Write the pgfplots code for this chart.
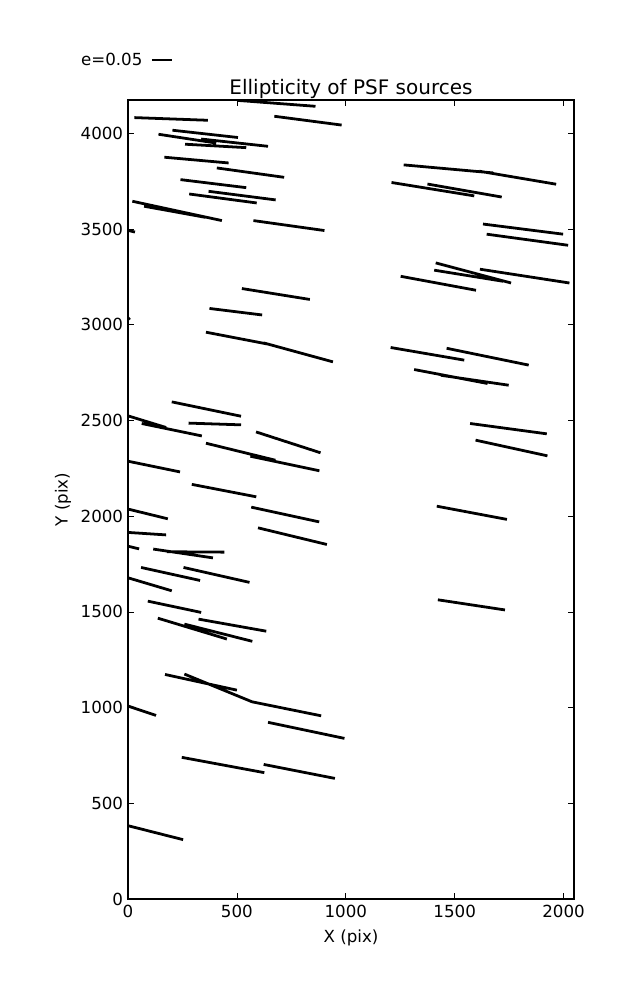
\documentclass[border=0pt]{standalone}
\usepackage{fontspec}
\setmainfont{DejaVu Sans}
\usepackage{pgfplots}
\pgfplotsset{compat=1.18}
\begin{document}
\begin{tikzpicture}
\path (-92.16pt,-72.72pt) rectangle (366.48pt,647.28pt);
\begin{axis}[
  scale only axis,
  width=321.12pt, height=575.28pt,
  xmin=0, xmax=2048, ymin=0, ymax=4174,
  xtick={0,500,1000,1500,2000},
  ytick={0,500,1000,1500,2000,2500,3000,3500,4000},
  minor tick num=0,
  tick align=inside,
  major tick length=4pt,
  every tick/.style={black, line width=0.5pt},
  axis line style={black, line width=0.8pt},
  /pgf/number format/assume math mode=true,
  /pgf/number format/1000 sep={},
  tick label style={font=\fontsize{12}{14}\selectfont},
  xticklabel style={yshift=-1pt},
  xlabel={X (pix)}, ylabel={Y (pix)},
  label style={font=\fontsize{12}{14}\selectfont},
  xlabel style={at={(axis description cs:0.5,-0.0487)}, anchor=center},
  ylabel style={at={(axis description cs:-0.1457,0.5)}, anchor=center, rotate=0},
  title={Ellipticity of PSF sources},
  every axis title shift=0pt,
  title style={font=\fontsize{14.4}{17}\selectfont, at={(axis description cs:0.5,1)}, anchor=base, yshift=4.3pt},
  legend plot pos=right,
  legend image code/.code={\path (0pt,0pt); \draw[#1] (4pt,0pt) -- (18.4pt,0pt);},
  legend style={at={(axis description cs:-0.112,1.05)}, anchor=west, draw=none, fill=none,
    inner sep=0pt, font=\fontsize{12}{14}\selectfont},
  unbounded coords=jump,
]
\addplot[black, line width=2pt, forget plot] coordinates {
(502,4172) (861,4141) (nan,nan)
(29,4082) (367,4068) (nan,nan)
(672,4089) (981,4043) (nan,nan)
(204,4016) (505,3978) (nan,nan)
(140,3995) (405,3949) (nan,nan)
(336,3970) (643,3932) (nan,nan)
(262,3943) (543,3925) (nan,nan)
(167,3875) (462,3845) (nan,nan)
(408,3819) (717,3770) (nan,nan)
(241,3758) (543,3716) (nan,nan)
(370,3697) (678,3652) (nan,nan)
(281,3683) (591,3636) (nan,nan)
(20,3645) (431,3544) (nan,nan)
(74,3619) (355,3561) (nan,nan)
(576,3544) (902,3492) (nan,nan)
(0,3493) (32,3484) (nan,nan)
(523,3189) (835,3132) (nan,nan)
(374,3085) (616,3051) (nan,nan)
(358,2961) (646,2898) (nan,nan)
(623,2905) (941,2806) (nan,nan)
(0,3036) (8,3026) (nan,nan)
(201,2597) (519,2522) (nan,nan)
(278,2486) (519,2477) (nan,nan)
(0,2524) (175,2463) (nan,nan)
(63,2484) (339,2419) (nan,nan)
(588,2440) (884,2331) (nan,nan)
(358,2381) (677,2292) (nan,nan)
(562,2313) (879,2237) (nan,nan)
(0,2287) (239,2231) (nan,nan)
(293,2166) (589,2101) (nan,nan)
(0,2037) (183,1986) (nan,nan)
(566,2047) (878,1970) (nan,nan)
(0,1915) (175,1902) (nan,nan)
(597,1939) (913,1852) (nan,nan)
(0,1843) (51,1829) (nan,nan)
(116,1828) (390,1782) (nan,nan)
(178,1814) (443,1812) (nan,nan)
(60,1732) (331,1664) (nan,nan)
(255,1732) (558,1654) (nan,nan)
(0,1678) (201,1610) (nan,nan)
(91,1556) (336,1497) (nan,nan)
(137,1467) (454,1358) (nan,nan)
(324,1462) (635,1399) (nan,nan)
(259,1436) (571,1346) (nan,nan)
(170,1173) (500,1091) (nan,nan)
(259,1175) (570,1030) (nan,nan)
(570,1030) (887,957) (nan,nan)
(0,1008) (129,959) (nan,nan)
(643,923) (994,839) (nan,nan)
(247,740) (626,660) (nan,nan)
(623,703) (950,630) (nan,nan)
(0,383) (253,310) (nan,nan)
(1266,3835) (1677,3793) (nan,nan)
(1613,3802) (1966,3734) (nan,nan)
(1210,3743) (1590,3673) (nan,nan)
(1375,3735) (1716,3667) (nan,nan)
(1630,3526) (1998,3473) (nan,nan)
(1647,3473) (2021,3415) (nan,nan)
(1413,3323) (1759,3218) (nan,nan)
(1406,3285) (1722,3227) (nan,nan)
(1616,3290) (2027,3218) (nan,nan)
(1252,3253) (1598,3180) (nan,nan)
(1206,2881) (1544,2815) (nan,nan)
(1463,2877) (1840,2789) (nan,nan)
(1314,2766) (1651,2693) (nan,nan)
(1436,2736) (1748,2684) (nan,nan)
(1571,2484) (1923,2430) (nan,nan)
(1596,2397) (1926,2315) (nan,nan)
(1418,2052) (1740,1983) (nan,nan)
(1423,1563) (1731,1510)
};
\addlegendimage{black, line width=1.5pt}
\addlegendentry{e=0.05}
\end{axis}
\end{tikzpicture}
\end{document}
